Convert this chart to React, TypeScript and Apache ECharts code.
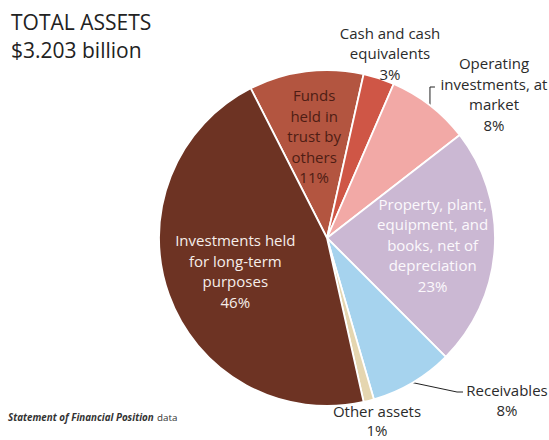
import React, { useEffect, useRef } from "react";
import * as echarts from "echarts";

// ---- data ----
const categories = [
  "Funds\nheld in\ntrust by\nothers",
  "Cash and cash\nequivalents",
  "Operating\ninvestments, at\nmarket",
  "Property, plant,\nequipment, and\nbooks, net of\ndepreciation",
  "Receivables",
  "Other assets",
  "Investments held\nfor long-term\npurposes",
];
const shares = [11, 3, 8, 23, 8, 1, 46];
const titleLines = ["TOTAL ASSETS", "$3.203 billion"];
const sourceNote = ["Statement of Financial Position", "data"];

// ---- styles / layout ----
const sliceColors = ["#b35540", "#cf5646", "#f2a9a6", "#cbb8d3", "#a6d3ee", "#e5d6b0", "#6d3323"];
const CENTER = [327, 238];
const RADIUS = 168;
const START_ANGLE = 117;
const FONT = "'Open Sans', 'Noto Sans', sans-serif";

type Placement = {
  inside?: boolean;
  ratio?: number;
  color?: string;
  x?: number;
  y?: number;
  lineHeight?: number;
  line?: { bendX?: number; bendY: number; endDX: number };
};
const labelPlacement: Placement[] = [
  { inside: true, ratio: 0.61, color: "#4e1d14" },
  { x: 390, y: 53 },
  { x: 494, y: 94, line: { bendY: 87, endDX: 5 } },
  { inside: true, ratio: 0.63, color: "#fbf8fc" },
  { x: 507, y: 400, lineHeight: 19.5, line: { bendX: 457, bendY: 392, endDX: 6 } },
  { x: 377, y: 420, lineHeight: 19 },
  { inside: true, ratio: 0.58, color: "#f6eeea" },
];

const total = shares.reduce((a, b) => a + b, 0);
function midAngle(i: number): number {
  let before = 0;
  for (let k = 0; k < i; k++) before += shares[k];
  const deg = -START_ANGLE + ((before + shares[i] / 2) / total) * 360;
  return (deg * Math.PI) / 180;
}
function pointAt(i: number, r: number): [number, number] {
  const a = midAngle(i);
  return [CENTER[0] + r * Math.cos(a), CENTER[1] + r * Math.sin(a)];
}

export default function App() {
  const ref = useRef<HTMLDivElement>(null);
  useEffect(() => {
    document.body.style.margin = "0";
    const chart = echarts.init(ref.current!, null, { renderer: "svg" });
    const data = categories.map((name, i) => {
      const p = labelPlacement[i];
      const label: any = p.inside
        ? { position: "inside", color: p.color }
        : { position: "outside", color: "#2b2b2b" };
      if (p.lineHeight) label.lineHeight = p.lineHeight;
      return {
        name,
        value: shares[i],
        itemStyle: { color: sliceColors[i] },
        label,
        labelLine: { show: !!p.line, lineStyle: { color: "#222", width: 1 } },
      };
    });
    const option: any = {
      animation: false,
      backgroundColor: "#ffffff",
      title: {
        text: titleLines.join("\n"),
        left: 11,
        top: 8,
        padding: 0,
        textStyle: {
          fontFamily: FONT,
          fontSize: 21,
          fontWeight: "normal",
          color: "#222",
          lineHeight: 28,
        },
      },
      graphic: [
        {
          type: "text",
          left: 8,
          top: 411,
          style: {
            text: `{a|${sourceNote[0]}} {b|${sourceNote[1]}}`,
            rich: {
              a: { fontFamily: FONT, fontStyle: "italic", fontWeight: "bold", fontSize: 9.8, fill: "#333" },
              b: { fontFamily: FONT, fontWeight: "normal", fontSize: 9.8, fill: "#333" },
            },
          },
        },
      ],
      series: [
        {
          type: "pie",
          center: CENTER,
          radius: RADIUS,
          startAngle: START_ANGLE,
          clockwise: true,
          avoidLabelOverlap: false,
          itemStyle: { borderColor: "#ffffff", borderWidth: 1.8 },
          label: {
            show: true,
            formatter: "{b}\n{c}%",
            fontFamily: FONT,
            fontSize: 15,
            lineHeight: 20.5,
            align: "center",
            overflow: "none",
          },
          emphasis: { disabled: true },
          labelLayout: (params: any) => {
            const i = params.dataIndex;
            const p = labelPlacement[i];
            if (p.inside) {
              const [x, y] = pointAt(i, RADIUS * (p.ratio || 0.6));
              return { x, y, align: "center", verticalAlign: "middle" };
            }
            const res: any = { x: p.x, y: p.y, align: "center", verticalAlign: "middle" };
            if (p.line) {
              const p0 = pointAt(i, RADIUS);
              const bx = p.line.bendX != null ? p.line.bendX : p0[0];
              res.labelLinePoints = [p0, [bx, p.line.bendY], [bx + p.line.endDX, p.line.bendY]];
            }
            return res;
          },
          data,
        },
      ],
    };
    chart.setOption(option);
    return () => chart.dispose();
  }, []);
  return <div ref={ref} style={{ width: 549, height: 440 }} />;
}
